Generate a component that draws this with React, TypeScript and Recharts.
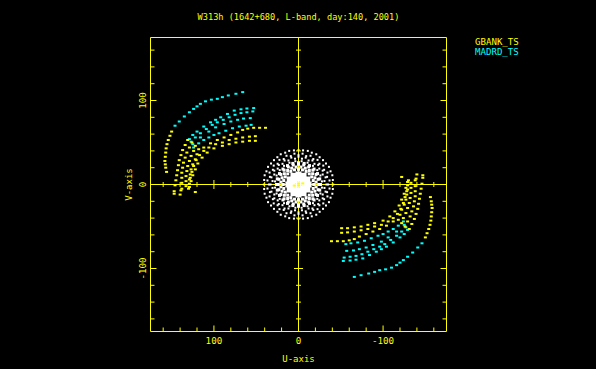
import React from 'react';
import { ScatterChart, Scatter, XAxis, YAxis, ReferenceLine, Legend, Label } from 'recharts';

type UV = [number, number];

const YEL = '#ffff00';
const CYAN = '#00ffff';
const WHITE = '#ffffff';
const FONT = '"DejaVu Sans Mono", "Liberation Mono", monospace';

const titleText = 'W313h (1642+680, L-band, day:140, 2001)';
const xTitle = 'U-axis';
const yTitle = 'V-axis';
const gbankName = 'GBANK_TS';
const madrdName = 'MADRD_TS';

const axisDomain: [number, number] = [-175, 175];
const axisTicks = [-160, -140, -120, -100, -80, -60, -40, -20, 0, 20, 40, 60, 80, 100, 120, 140, 160];
const majorTicks = [-100, 0, 100];
const labelTicks = [-100, 0, 100];
const crossTicks = [-160, -140, -120, -100, -80, -60, -40, -20, 20, 40, 60, 80, 100, 120, 140, 160];

// GBANK_TS tracks (measured half; conjugate points are added below)
const gbankTracks: UV[] = [
  [150, 63], [152, 58], [154, 53], [155.5, 48], [156.5, 43], [157, 38], [157.5, 33], [158, 28], [157.5, 24], [157, 20], [156, 15],
  [112, 44], [104, 49], [96, 53], [88, 56], [80, 59], [72, 62], [66, 65], [60, 66.5], [53, 67.5], [46, 67.5], [39, 67.5],
  [51, 57.5], [58, 57], [66, 56], [74, 54.5], [82, 53], [90, 50], [98, 48], [106, 44], [112, 40], [117, 35], [121, 29], [124, 22], [126, 15], [128, 8], [129, 1],
  [51, 52], [58, 52], [66, 51], [74, 50], [82, 48], [90, 46], [100, 43], [108, 38], [114, 32], [119, 25], [122, 18], [125, 11], [127, 4], [129, -3],
  [131, 53], [134, 47], [137, 41], [139, 35], [141, 29], [142, 23], [143, 17], [144, 11], [145, 5], [146, -1], [147, -8],
  [126, 50], [129, 44], [132, 38], [134, 32], [136, 26], [137, 20], [138, 14], [138, 8], [138, 2], [138, -5],
  [122, 46], [124, 40], [127, 34], [129, 28], [131, 22], [132, 16], [133, 10], [133, 4], [133, -2],
  [118, 42], [120, 36], [122, 30], [125, 24], [127, 18], [128, 12], [129, 6],
  [147, -11], [139, -7], [130, -5], [122, -9], [140, -12],
  [5, -1.3], [0, 1.2],
];

// MADRD_TS tracks (measured half)
const madrdTracks: UV[] = [
  [146, 70], [141, 75], [135, 81], [129, 86], [124, 90], [120, 93], [116, 96], [110, 99], [103, 101], [96, 102], [90, 104], [83, 106], [74, 108], [66, 110],
  [129, 54], [125, 59], [120, 63], [112, 69], [104, 74], [98, 77], [92, 80], [84, 84], [76, 88], [68, 89.5], [61, 90.5], [53, 91],
  [127, 51], [122, 56], [116, 61], [109, 66], [102, 71], [96, 74], [89, 77], [82, 80], [75, 83], [68, 85], [61, 86], [54, 87],
  [125, 48], [116, 56], [106, 63], [98, 68], [88, 72], [80, 75], [72, 77], [65, 78.5], [57, 79],
  [124, 44], [118, 49], [112, 53], [106, 56], [100, 59], [94, 61], [86, 64], [78, 67], [70, 69], [62, 70], [56, 71],
];

// short baselines (white), outer dotted rings
const whiteOuter: UV[] = [
  [41, 0], [40, 11], [36, 21], [29, 29], [21, 36], [11, 40], [0, 41], [-11, 40], [-21, 36], [-29, 29], [-36, 21], [-40, 11],
  [40.6, 5.4], [37.9, 15.7], [32.5, 25], [25, 32.5], [15.7, 37.9], [5.4, 40.6], [-5.4, 40.6], [-15.7, 37.9], [-25, 32.5], [-32.5, 25], [-37.9, 15.7], [-40.6, 5.4],
  [36.7, 4.8], [34.2, 14.2], [29.3, 22.5], [22.5, 29.3], [14.2, 34.2], [4.8, 36.7], [-4.8, 36.7], [-14.2, 34.2], [-22.5, 29.3], [-29.3, 22.5], [-34.2, 14.2], [-36.7, 4.8],
  [35, 0], [33.8, 9.1], [30.3, 17.5], [24.7, 24.7], [17.5, 30.3], [9.1, 33.8], [0, 35], [-9.1, 33.8], [-17.5, 30.3], [-24.7, 24.7], [-30.3, 17.5], [-33.8, 9.1],
  [33, 0], [32, 8.5], [28.6, 16.5], [23.3, 23.3], [16.5, 28.6], [8.5, 32], [0, 33], [-8.5, 32], [-16.5, 28.6], [-23.3, 23.3], [-28.6, 16.5], [-32, 8.5],
  [30.7, 4.1], [28.6, 11.9], [24.6, 18.9], [18.9, 24.6], [11.9, 28.6], [4.1, 30.7], [-4.1, 30.7], [-11.9, 28.6], [-18.9, 24.6], [-24.6, 18.9], [-28.6, 11.9], [-30.7, 4.1],
  [27.7, 3.7], [25.9, 10.7], [22.2, 17.1], [17.1, 22.2], [10.7, 25.9], [3.7, 27.7], [-3.7, 27.7], [-10.7, 25.9], [-17.1, 22.2], [-22.2, 17.1], [-25.9, 10.7], [-27.7, 3.7],
];

// dense inner band
const whiteInner: UV[] = [
  [26, 0], [25.1, 6.7], [22.5, 13], [18.4, 18.4], [13, 22.5], [6.7, 25.1], [0, 26], [-6.7, 25.1], [-13, 22.5], [-18.4, 18.4], [-22.5, 13], [-25.1, 6.7],
  [24, 0], [23.2, 6.2], [20.8, 12], [17, 17], [12, 20.8], [6.2, 23.2], [0, 24], [-6.2, 23.2], [-12, 20.8], [-17, 17], [-20.8, 12], [-23.2, 6.2],
  [20.8, 2.8], [19.4, 8], [16.7, 12.8], [12.8, 16.7], [8, 19.4], [2.8, 20.8], [-2.8, 20.8], [-8, 19.4], [-12.8, 16.7], [-16.7, 12.8], [-19.4, 8], [-20.8, 2.8],
  [18, 0], [17.4, 4.7], [15.6, 9], [12.7, 12.7], [9, 15.6], [4.7, 17.4], [0, 18], [-4.7, 17.4], [-9, 15.6], [-12.7, 12.7], [-15.6, 9], [-17.4, 4.7],
];

// solid core
const whiteCore: UV[] = [
  [12, 0], [10.4, 6], [6, 10.4], [0, 12], [-6, 10.4], [-10.4, 6],
  [7, 0], [5, 5], [0, 7], [-5, 5], [0, 0],
];

// add Hermitian conjugate points (-u, -v)
const withConj = (pts: UV[]) =>
  [...pts, ...pts.map(([u, v]) => [-u, -v] as UV)].map(([u, v]) => ({ u, v }));

const gbankData = withConj(gbankTracks);
const madrdData = withConj(madrdTracks);
const whiteOuterData = withConj(whiteOuter);
const whiteInnerData = withConj(whiteInner);
const whiteCoreData = withConj(whiteCore);
const vTickData = crossTicks.map((t) => ({ u: 0, v: t }));
const hTickData = crossTicks.map((t) => ({ u: t, v: 0 }));

const rectShape = (color: string, w: number, h: number) => (p: any) => (
  <rect x={p.cx - w / 2} y={p.cy - h / 2} width={w} height={h} fill={color} />
);

const tickVal = (p: any, key: 'u' | 'v') => (p.payload && p.payload[key] !== undefined ? p.payload[key] : 0);

const hDash = (p: any) => {
  const L = majorTicks.includes(tickVal(p, 'v')) ? 4.5 : 2.5;
  return <line x1={p.cx - L} x2={p.cx + L} y1={p.cy} y2={p.cy} stroke={YEL} strokeWidth={1} />;
};
const vDash = (p: any) => {
  const L = majorTicks.includes(tickVal(p, 'u')) ? 4.5 : 2.5;
  return <line x1={p.cx} x2={p.cx} y1={p.cy - L} y2={p.cy + L} stroke={YEL} strokeWidth={1} />;
};

const tickLen = (v: number) => (majorTicks.includes(v) ? 6 : 4);

const BottomTick = (props: any) => {
  const { x, y, payload } = props;
  const v = payload.value;
  return (
    <g>
      <line x1={x} y1={y} x2={x} y2={y - tickLen(v)} stroke={YEL} />
      {labelTicks.includes(v) && (
        <text x={x} y={y + 12} textAnchor="middle" fill={YEL} fontFamily={FONT} fontSize={9.2}>
          {String(v)}
        </text>
      )}
    </g>
  );
};
const TopTick = (props: any) => {
  const { x, y, payload } = props;
  return <line x1={x} y1={y} x2={x} y2={y + tickLen(payload.value)} stroke={YEL} />;
};
const LeftTick = (props: any) => {
  const { x, y, payload } = props;
  const v = payload.value;
  const tx = x - 5;
  return (
    <g>
      <line x1={x} y1={y} x2={x + tickLen(v)} y2={y} stroke={YEL} />
      {labelTicks.includes(v) && (
        <text x={tx} y={y} transform={`rotate(-90 ${tx} ${y})`} textAnchor="middle" fill={YEL} fontFamily={FONT} fontSize={9.2}>
          {String(v)}
        </text>
      )}
    </g>
  );
};
const RightTick = (props: any) => {
  const { x, y, payload } = props;
  return <line x1={x} y1={y} x2={x - tickLen(payload.value)} y2={y} stroke={YEL} />;
};

const TitleLabel = (props: any) => {
  const vb = props.viewBox || { x: 150.5, y: 0, width: 296, height: 37.5 };
  return (
    <text x={vb.x + vb.width / 2} y={vb.y + vb.height - 17.5} textAnchor="middle" fill={YEL} fontFamily={FONT} fontSize={8.6}>
      {titleText}
    </text>
  );
};
const XTitleLabel = (props: any) => {
  const vb = props.viewBox || { x: 150.5, y: 331.5, width: 296, height: 37.5 };
  return (
    <text x={vb.x + vb.width / 2} y={vb.y + 30} textAnchor="middle" fill={YEL} fontFamily={FONT} fontSize={9}>
      {xTitle}
    </text>
  );
};
const YTitleLabel = (props: any) => {
  const vb = props.viewBox || { x: 0, y: 37.5, width: 150.5, height: 294 };
  const tx = vb.x + vb.width - 19;
  const ty = vb.y + vb.height / 2;
  return (
    <text x={tx} y={ty} transform={`rotate(-90 ${tx} ${ty})`} textAnchor="middle" fill={YEL} fontFamily={FONT} fontSize={9}>
      {yTitle}
    </text>
  );
};

const legendOrder = [gbankName, madrdName];
const renderLegend = (props: any) => {
  const items = (props.payload || [])
    .filter((e: any) => legendOrder.includes(e.value))
    .sort((a: any, b: any) => legendOrder.indexOf(a.value) - legendOrder.indexOf(b.value));
  return (
    <div style={{ fontFamily: FONT, fontSize: 9.1, lineHeight: '10.6px', textAlign: 'left' }}>
      {items.map((e: any) => (
        <div key={e.value} style={{ color: e.color }}>
          {e.value}
        </div>
      ))}
    </div>
  );
};

export default function App() {
  return (
    <div style={{ position: 'absolute', left: 0, top: 0, width: 596, height: 369, background: '#000', overflow: 'hidden' }}>
      <ScatterChart width={596} height={369} margin={{ top: 0, right: 0, bottom: 0, left: 0 }}>
        <XAxis
          type="number"
          dataKey="u"
          domain={axisDomain}
          allowDataOverflow
          reversed
          ticks={axisTicks}
          interval={0}
          height={37.5}
          tickLine={false}
          tickSize={0}
          tickMargin={0}
          axisLine={{ stroke: YEL }}
          tick={BottomTick}
        >
          <Label content={XTitleLabel} />
        </XAxis>
        <XAxis
          xAxisId="top"
          orientation="top"
          type="number"
          domain={axisDomain}
          allowDataOverflow
          reversed
          ticks={axisTicks}
          interval={0}
          height={37.5}
          tickLine={false}
          tickSize={0}
          tickMargin={0}
          axisLine={{ stroke: YEL }}
          tick={TopTick}
        >
          <Label content={TitleLabel} />
        </XAxis>
        <YAxis
          type="number"
          dataKey="v"
          domain={axisDomain}
          allowDataOverflow
          ticks={axisTicks}
          interval={0}
          width={150.5}
          tickLine={false}
          tickSize={0}
          tickMargin={0}
          axisLine={{ stroke: YEL }}
          tick={LeftTick}
        >
          <Label content={YTitleLabel} />
        </YAxis>
        <YAxis
          yAxisId="right"
          orientation="right"
          type="number"
          domain={axisDomain}
          allowDataOverflow
          ticks={axisTicks}
          interval={0}
          width={149.5}
          tickLine={false}
          tickSize={0}
          tickMargin={0}
          axisLine={{ stroke: YEL }}
          tick={RightTick}
        />
        <Legend
          layout="horizontal"
          verticalAlign="middle"
          align="center"
          content={renderLegend}
          wrapperStyle={{ left: 475, top: 36.5, width: 90 }}
        />
        <Scatter name="outer" data={whiteOuterData} fill={WHITE} legendType="none" shape={rectShape(WHITE, 2, 2)} isAnimationActive={false} />
        <Scatter name="inner" data={whiteInnerData} fill={WHITE} legendType="none" shape={rectShape(WHITE, 3, 3)} isAnimationActive={false} />
        <Scatter name="core" data={whiteCoreData} fill={WHITE} legendType="none" shape={rectShape(WHITE, 6, 6)} isAnimationActive={false} />
        <Scatter name={madrdName} data={madrdData} fill={CYAN} shape={rectShape(CYAN, 3, 2)} isAnimationActive={false} />
        <Scatter name={gbankName} data={gbankData} fill={YEL} shape={rectShape(YEL, 3, 2)} isAnimationActive={false} />
        <ReferenceLine x={0} stroke={YEL} strokeWidth={1} />
        <ReferenceLine y={0} stroke={YEL} strokeWidth={1} />
        <Scatter name="vticks" data={vTickData} fill={YEL} legendType="none" shape={hDash} isAnimationActive={false} />
        <Scatter name="hticks" data={hTickData} fill={YEL} legendType="none" shape={vDash} isAnimationActive={false} />
      </ScatterChart>
    </div>
  );
}
